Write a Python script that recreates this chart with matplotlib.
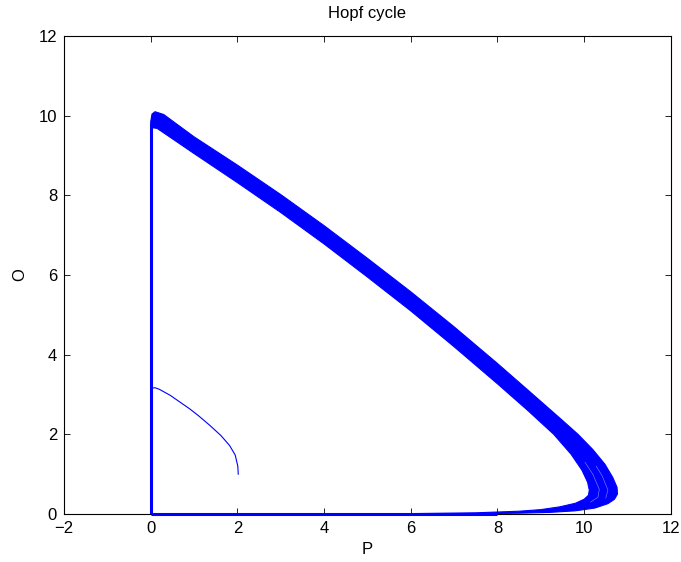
import matplotlib
matplotlib.use("Agg")
import matplotlib.pyplot as plt
import numpy as np

plt.rcParams['font.family'] = ['Liberation Sans', 'DejaVu Sans']

# transient from the start point (2, 1) towards P = 0
trans_P = [2.02, 2.01, 1.95, 1.82, 1.62, 1.37, 1.1, 0.9, 0.45, 0.2, 0.1, 0.03, 0.0, 0.0]
trans_O = [1.0, 1.2, 1.48, 1.72, 1.97, 2.22, 2.47, 2.64, 2.98, 3.13, 3.17, 3.16, 3.1, 0.0]

# outer edge of the limit cycle band
outer_P = [0.0, 0.0, 0.03, 0.1, 0.3, 1.0, 2.0, 3.0, 4.0, 5.0, 6.0, 7.0, 8.0, 8.82,
           9.5, 9.86, 10.2, 10.48, 10.66, 10.76, 10.77, 10.7, 10.55, 10.25, 9.8,
           9.2, 8.5, 7.5, 0.0]
outer_O = [0.0, 9.85, 10.04, 10.1, 10.03, 9.47, 8.76, 8.02, 7.24, 6.42, 5.58, 4.7, 3.78, 3.0,
           2.35, 2.0, 1.62, 1.25, 0.92, 0.67, 0.5, 0.37, 0.26, 0.15, 0.08,
           0.04, 0.02, 0.005, 0.0]

# inner edge of the limit cycle band
inner_P = [0.0, 0.0, 0.03, 0.15, 1.0, 2.0, 3.0, 4.0, 5.0, 6.0, 7.0, 8.0, 8.7, 9.3,
           9.7, 9.95, 10.08, 10.12, 10.1, 10.0, 9.8, 9.44, 9.0, 8.5, 7.5, 6.0, 0.0]
inner_O = [0.0, 9.6, 9.7, 9.68, 9.05, 8.32, 7.57, 6.78, 5.95, 5.1, 4.2, 3.27, 2.6, 2.0,
           1.5, 1.1, 0.8, 0.6, 0.47, 0.37, 0.27, 0.18, 0.11, 0.07, 0.03, 0.01, 0.0]

# thin white gaps between single loops near the tip
gap1_P = [10.02, 10.2, 10.35, 10.32, 10.15]
gap1_O = [1.3, 1.0, 0.62, 0.42, 0.3]
gap2_P = [10.28, 10.42, 10.55, 10.5]
gap2_O = [1.2, 0.95, 0.6, 0.4]

fig = plt.figure(figsize=(6.81, 5.62), dpi=100)
ax = fig.add_axes([0.094, 0.0854, 0.891, 0.8505])

blue = (0, 0, 1)
# band between the two edges
band_P = outer_P[1:-1] + inner_P[::-1][1:-1]
band_O = outer_O[1:-1] + inner_O[::-1][1:-1]
ax.fill(band_P, band_O, color=blue, lw=0)
ax.plot(outer_P, outer_O, color=blue, lw=0.8)
ax.plot(inner_P, inner_O, color=blue, lw=0.8)
ax.plot(gap1_P, gap1_O, color='white', lw=0.4, alpha=0.55)
ax.plot(gap2_P, gap2_O, color='white', lw=0.4, alpha=0.55)
ax.plot([0, 0], [0, 9.8], color=blue, lw=2.2, solid_capstyle='butt')
ax.plot([0, 8], [0.0, 0.0], color=blue, lw=2.2, solid_capstyle='butt', clip_on=False)
ax.plot(trans_P, trans_O, color=blue, lw=0.8)

ax.set_xlim(-2, 12)
ax.set_ylim(0, 12)
ax.set_xticks(np.arange(-2, 13, 2))
ax.set_yticks(np.arange(0, 13, 2))
ax.tick_params(direction='in', top=True, right=True, length=4.5, width=0.6,
               labelsize=12, pad=5)
for s in ax.spines.values():
    s.set_linewidth(0.8)
    s.set_zorder(0.5)

ax.set_title('Hopf cycle', fontsize=12, pad=13)
ax.set_xlabel('P', fontsize=12, labelpad=4)
ax.set_ylabel('O', fontsize=12, labelpad=8)

fig.savefig('out.png', dpi=100)
